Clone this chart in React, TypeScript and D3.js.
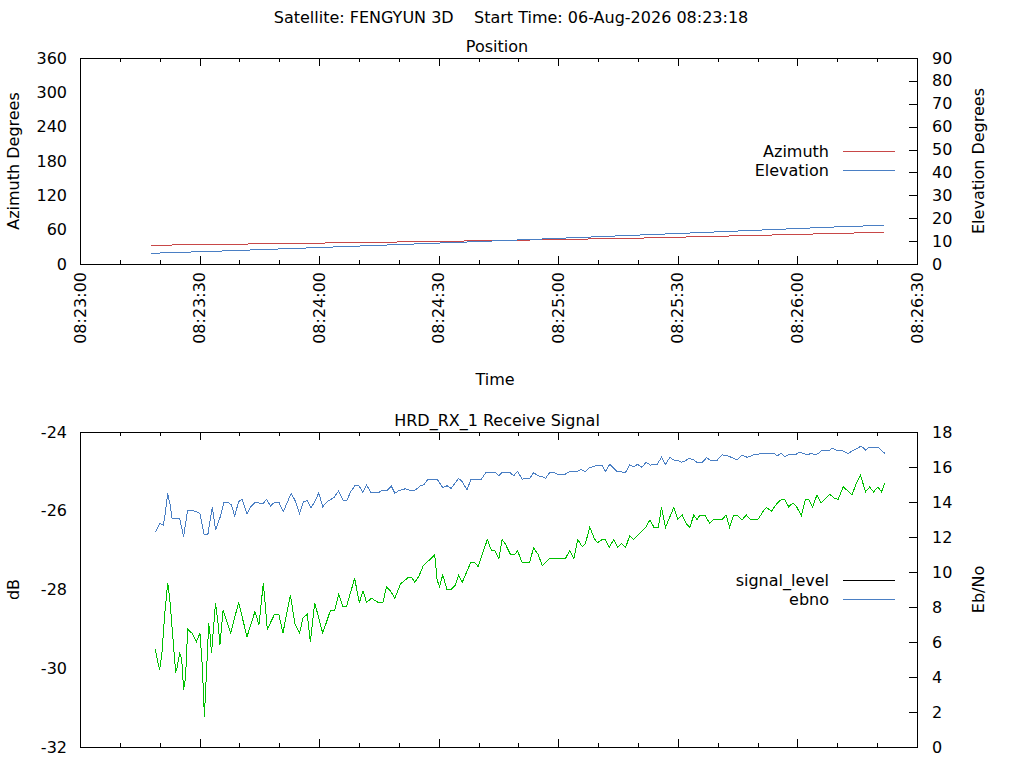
import { useEffect, useRef } from "react";
import * as d3 from "d3";

const START = new Date(2026, 7, 6, 8, 23, 0);
const END = new Date(2026, 7, 6, 8, 26, 30);

const titleText = "Satellite: FENGYUN 3D    Start Time: 06-Aug-2026 08:23:18";

// seconds after 08:23:00
const azTime = [17.9, 28.4, 48.2, 67.3, 85.4, 101.3, 116.4, 130.2, 144.4, 156.3, 168.4, 179.1, 189.1, 199.1, 201.8];
const azimuth = [32.7, 33.7, 35.5, 37.2, 39.0, 40.7, 42.3, 44.0, 45.8, 47.9, 49.8, 51.6, 53.3, 55.0, 55.9];

const elTime = [17.9, 37.2, 58.3, 78.5, 98.4, 117.2, 135.4, 154.4, 172.4, 190.4, 201.8];
const elevation = [4.67, 5.77, 7.08, 8.39, 9.7, 11.01, 12.32, 13.63, 14.94, 16.25, 16.91];

const ebnoTime = [18.9, 20.0, 20.9, 21.4, 22.0, 22.7, 23.1, 25.0, 26.0, 27.0, 28.1, 30.1, 31.1, 32.1, 33.2, 34.0, 35.2, 36.1, 37.1, 38.0, 38.8, 39.8, 40.7, 41.9, 42.8, 44.0, 45.1, 46.0, 46.8, 47.8, 48.8, 49.9, 51.0, 53.0, 54.1, 55.1, 56.1, 57.0, 58.0, 59.1, 59.9, 60.9, 62.0, 63.7, 64.9, 66.0, 67.0, 67.9, 69.1, 69.9, 71.0, 71.9, 73.0, 75.0, 75.8, 77.1, 78.1, 79.0, 80.0, 81.7, 82.9, 84.2, 85.4, 86.3, 87.3, 89.6, 91.0, 92.1, 93.1, 95.0, 96.0, 97.1, 98.1, 100.7, 101.9, 104.2, 105.1, 105.9, 107.8, 108.8, 109.8, 110.9, 112.8, 113.8, 115.0, 116.0, 116.8, 117.9, 118.9, 119.7, 121.8, 122.8, 124.9, 125.7, 126.8, 127.9, 128.9, 129.8, 131.0, 131.8, 132.9, 134.8, 136.9, 137.9, 138.9, 139.9, 141.0, 142.0, 143.1, 144.8, 145.9, 146.9, 148.0, 149.0, 149.8, 150.9, 151.9, 152.9, 154.0, 154.8, 156.1, 157.2, 158.0, 159.9, 161.1, 162.4, 163.6, 164.9, 166.1, 167.4, 169.0, 171.5, 174.1, 174.9, 175.9, 176.8, 177.7, 179.5, 180.3, 181.6, 182.4, 183.5, 184.3, 185.3, 186.0, 187.9, 188.7, 190.0, 191.2, 192.7, 193.9, 195.0, 196.0, 197.1, 197.9, 200.3, 201.9];
const ebno = [12.27, 12.78, 12.69, 13.35, 14.5, 13.73, 13.07, 13.07, 12.02, 13.54, 13.54, 13.35, 12.17, 12.17, 13.7, 12.4, 13.16, 13.98, 13.98, 13.83, 13.2, 14.02, 14.15, 13.3, 13.73, 13.98, 13.93, 13.93, 14.15, 13.77, 13.98, 13.98, 13.45, 14.5, 14.02, 13.35, 14.02, 14.07, 13.67, 14.11, 14.53, 13.73, 14.02, 14.25, 14.63, 14.11, 14.11, 14.59, 14.97, 14.97, 14.55, 14.97, 14.55, 14.55, 14.67, 14.67, 14.91, 14.5, 14.65, 14.76, 14.65, 14.69, 14.93, 14.99, 15.31, 15.31, 14.82, 14.93, 14.78, 15.35, 15.13, 14.69, 15.31, 15.31, 15.7, 15.7, 15.5, 15.7, 15.7, 15.5, 15.75, 15.31, 15.35, 15.67, 15.49, 15.45, 15.35, 15.7, 15.7, 15.6, 15.6, 15.73, 15.77, 15.87, 15.73, 15.98, 16.02, 16.11, 16.11, 15.73, 16.15, 15.73, 15.7, 16.11, 16.02, 16.15, 15.98, 16.27, 16.11, 16.15, 16.55, 16.15, 16.55, 16.4, 16.4, 16.27, 16.36, 16.5, 16.4, 16.27, 16.27, 16.53, 16.4, 16.4, 16.69, 16.65, 16.53, 16.4, 16.69, 16.55, 16.69, 16.78, 16.78, 16.63, 16.78, 16.59, 16.69, 16.69, 16.84, 16.78, 16.69, 16.78, 16.69, 16.78, 16.93, 16.93, 17.07, 16.93, 16.93, 16.78, 16.93, 17.07, 17.2, 16.97, 17.13, 17.13, 16.78];

const sigTime = [18.9, 19.5, 20.0, 20.6, 21.2, 22.0, 22.5, 23.4, 24.0, 24.4, 25.0, 25.5, 26.0, 26.5, 27.0, 28.1, 29.2, 30.1, 30.7, 31.1, 31.2, 31.9, 32.3, 32.6, 33.0, 34.0, 34.7, 35.1, 35.9, 37.8, 39.8, 41.9, 43.9, 44.9, 46.0, 47.0, 48.8, 49.9, 50.9, 52.8, 53.9, 55.1, 55.9, 57.0, 57.8, 58.9, 60.9, 62.8, 63.9, 64.9, 65.9, 66.9, 68.9, 70.1, 71.0, 71.9, 73.1, 74.8, 76.0, 76.9, 77.9, 79.0, 80.4, 82.3, 83.3, 84.0, 85.0, 86.1, 89.0, 89.6, 90.2, 91.0, 92.1, 93.0, 94.2, 95.0, 95.9, 97.4, 98.1, 99.0, 99.9, 102.2, 103.2, 104.0, 105.1, 105.9, 106.7, 108.0, 109.0, 109.8, 110.9, 112.8, 113.8, 115.0, 116.0, 117.9, 121.8, 122.9, 123.9, 124.9, 126.0, 126.8, 127.9, 129.1, 129.9, 131.0, 131.8, 132.8, 133.9, 134.9, 135.9, 136.9, 137.9, 138.9, 141.9, 143.0, 144.0, 145.1, 145.9, 146.9, 149.0, 150.0, 151.1, 152.2, 153.0, 154.0, 154.8, 155.4, 156.9, 158.0, 159.0, 161.1, 162.1, 163.0, 164.0, 165.1, 166.1, 167.2, 168.2, 170.1, 171.5, 172.2, 173.5, 174.9, 176.0, 176.8, 177.8, 178.9, 179.8, 181.0, 182.0, 182.8, 183.8, 184.9, 185.9, 188.1, 189.3, 190.2, 191.5, 193.7, 194.8, 195.8, 197.1, 198.1, 199.1, 200.2, 201.1, 201.9];
const signalLevel = [-29.52, -29.83, -30.03, -29.58, -28.69, -27.83, -28.22, -29.33, -30.11, -29.96, -29.62, -29.75, -30.55, -30.21, -29.01, -29.11, -29.33, -29.11, -29.96, -30.96, -31.23, -29.75, -28.86, -29.11, -29.61, -28.34, -28.9, -29.41, -28.52, -29.11, -28.33, -29.2, -28.56, -28.9, -27.83, -29.01, -28.63, -28.63, -29.11, -28.14, -28.86, -29.11, -28.73, -28.63, -29.33, -28.34, -29.11, -28.54, -28.52, -28.12, -28.42, -28.42, -27.72, -28.33, -28.03, -28.33, -28.22, -28.33, -28.33, -27.93, -28.04, -28.22, -27.86, -27.7, -27.7, -27.82, -27.67, -27.4, -27.12, -27.76, -27.93, -27.63, -28.01, -28.01, -27.89, -27.63, -27.82, -27.46, -27.31, -27.31, -27.42, -26.73, -27.0, -27.0, -27.21, -26.73, -26.84, -27.11, -27.11, -27.02, -27.31, -27.31, -26.94, -27.12, -27.4, -27.21, -27.21, -27.01, -27.21, -26.73, -26.91, -26.83, -26.42, -26.72, -26.81, -26.73, -26.73, -26.93, -26.73, -26.93, -26.83, -26.93, -26.64, -26.73, -26.43, -26.23, -26.42, -26.42, -25.91, -26.42, -25.91, -26.22, -26.11, -26.34, -26.42, -26.11, -26.22, -26.13, -26.13, -26.32, -26.22, -26.22, -26.11, -26.42, -26.11, -26.13, -26.23, -26.11, -26.22, -26.22, -26.0, -25.92, -26.01, -25.81, -25.71, -25.71, -25.9, -25.8, -25.9, -26.13, -25.71, -25.71, -25.9, -25.6, -25.8, -25.58, -25.68, -25.71, -25.39, -25.6, -25.29, -25.09, -25.52, -25.4, -25.52, -25.4, -25.52, -25.3];

const azTicks = [0, 60, 120, 180, 240, 300, 360];
const elTicks = [0, 10, 20, 30, 40, 50, 60, 70, 80, 90];
const dbTicks = [-32, -30, -28, -26, -24];
const ebTicks = [0, 2, 4, 6, 8, 10, 12, 14, 16, 18];

const RED = "#c84848";
const BLUE = "#4a7fc4";
const GREEN = "#00c000";
const FONT = "DejaVu Sans, sans-serif";

type Pt = { t: Date; v: number };
const toPts = (ts: number[], vs: number[]): Pt[] =>
  ts.slice(0, Math.min(ts.length, vs.length)).map((s, i) => ({ t: new Date(+START + s * 1000), v: vs[i] }));

export default function App() {
  const svgRef = useRef<SVGSVGElement | null>(null);

  useEffect(() => {
    if (!svgRef.current) return;
    const W = 1024, H = 768;
    const left = 80, right = 917;
    const svg = d3.select(svgRef.current);
    svg.selectAll("*").remove();
    svg.attr("width", W).attr("height", H).attr("viewBox", `0 0 ${W} ${H}`);
    svg.append("rect").attr("width", W).attr("height", H).attr("fill", "#fff");

    const x = d3.scaleTime().domain([START, END]).range([left, right]);
    const txt = (s: d3.Selection<any, any, any, any>) =>
      s.attr("font-family", FONT).attr("font-size", 16).attr("fill", "#000");

    svg.append("text").call(txt).attr("x", 511).attr("y", 17).attr("text-anchor", "middle")
      .attr("dominant-baseline", "central").attr("xml:space", "preserve").style("white-space", "pre")
      .text(titleText);

    const panel = (opts: {
      top: number; bottom: number; title: string;
      yL: d3.ScaleLinear<number, number>; yR: d3.ScaleLinear<number, number>;
      lTicks: number[]; rTicks: number[]; lLabel: string; rLabel: string;
      series: { pts: Pt[]; color: string; axis: "L" | "R" }[];
      legend: { label: string; color: string }[]; legendY: number;
      xLabels: boolean;
    }) => {
      const { top, bottom, yL, yR } = opts;
      const g = svg.append("g").attr("shape-rendering", "crispEdges");
      const midY = (top + bottom) / 2;

      svg.append("text").call(txt).attr("x", 497).attr("y", top - 12).attr("text-anchor", "middle")
        .attr("dominant-baseline", "central").text(opts.title);

      // x ticks (bottom + mirrored on top)
      x.ticks(d3.timeSecond.every(10) as any).forEach((d) => {
        const px = Math.round(x(d)) + 0.5;
        const major = d.getSeconds() % 30 === 0;
        const len = major ? 8 : 4;
        g.append("line").attr("x1", px).attr("x2", px).attr("y1", bottom).attr("y2", bottom - len).attr("stroke", "#000");
        g.append("line").attr("x1", px).attr("x2", px).attr("y1", top).attr("y2", top + len).attr("stroke", "#000");
        if (major && opts.xLabels) {
          svg.append("text").call(txt)
            .attr("transform", `translate(${x(d)},${bottom + 8}) rotate(-90)`)
            .attr("text-anchor", "end").attr("dominant-baseline", "central")
            .text(d3.timeFormat("%H:%M:%S")(d));
        }
      });

      opts.lTicks.forEach((v) => {
        svg.append("text").call(txt).attr("x", 67).attr("y", yL(v)).attr("text-anchor", "end")
          .attr("dominant-baseline", "central").text(String(v));
      });
      opts.rTicks.forEach((v) => {
        const py = Math.round(yR(v)) + 0.5;
        g.append("line").attr("x1", right).attr("x2", right - 8).attr("y1", py).attr("y2", py).attr("stroke", "#000");
        svg.append("text").call(txt).attr("x", 932).attr("y", yR(v)).attr("text-anchor", "start")
          .attr("dominant-baseline", "central").text(String(v));
      });

      svg.append("text").call(txt).attr("transform", `translate(13,${midY}) rotate(-90)`)
        .attr("text-anchor", "middle").attr("dominant-baseline", "central").text(opts.lLabel);
      svg.append("text").call(txt).attr("transform", `translate(978,${midY}) rotate(-90)`)
        .attr("text-anchor", "middle").attr("dominant-baseline", "central").text(opts.rLabel);

      opts.series.forEach((s) => {
        const y = s.axis === "L" ? yL : yR;
        const line = d3.line<Pt>().x((d) => x(d.t)).y((d) => y(d.v));
        g.append("path").datum(s.pts).attr("d", line as any).attr("fill", "none")
          .attr("stroke", s.color).attr("stroke-width", 1);
      });

      opts.legend.forEach((l, i) => {
        const ly = opts.legendY + i * 19;
        svg.append("text").call(txt).attr("x", 829).attr("y", ly).attr("text-anchor", "end")
          .attr("dominant-baseline", "central").text(l.label);
        g.append("line").attr("x1", 843).attr("x2", 895).attr("y1", Math.round(ly) + 0.5).attr("y2", Math.round(ly) + 0.5)
          .attr("stroke", l.color);
      });

      g.append("rect").attr("x", left + 0.5).attr("y", top + 0.5).attr("width", right - left).attr("height", bottom - top)
        .attr("fill", "none").attr("stroke", "#000");
    };

    panel({
      top: 58, bottom: 264, title: "Position",
      yL: d3.scaleLinear().domain([0, 360]).range([264, 58]),
      yR: d3.scaleLinear().domain([0, 90]).range([264, 58]),
      lTicks: azTicks, rTicks: elTicks, lLabel: "Azimuth Degrees", rLabel: "Elevation Degrees",
      series: [
        { pts: toPts(azTime, azimuth), color: RED, axis: "L" },
        { pts: toPts(elTime, elevation), color: BLUE, axis: "R" },
      ],
      legend: [{ label: "Azimuth", color: RED }, { label: "Elevation", color: BLUE }],
      legendY: 151, xLabels: true,
    });

    svg.append("text").call(txt).attr("x", 495).attr("y", 379).attr("text-anchor", "middle")
      .attr("dominant-baseline", "central").text("Time");

    panel({
      top: 432, bottom: 747, title: "HRD_RX_1 Receive Signal",
      yL: d3.scaleLinear().domain([-32, -24]).range([747, 432]),
      yR: d3.scaleLinear().domain([0, 18]).range([747, 432]),
      lTicks: dbTicks, rTicks: ebTicks, lLabel: "dB", rLabel: "Eb/No",
      series: [
        { pts: toPts(ebnoTime, ebno), color: BLUE, axis: "R" },
        { pts: toPts(sigTime, signalLevel), color: GREEN, axis: "L" },
      ],
      legend: [{ label: "signal_level", color: "#000" }, { label: "ebno", color: BLUE }],
      legendY: 580, xLabels: false,
    });
  }, []);

  return <svg ref={svgRef} style={{ position: "absolute", left: 0, top: 0, display: "block" }} />;
}
